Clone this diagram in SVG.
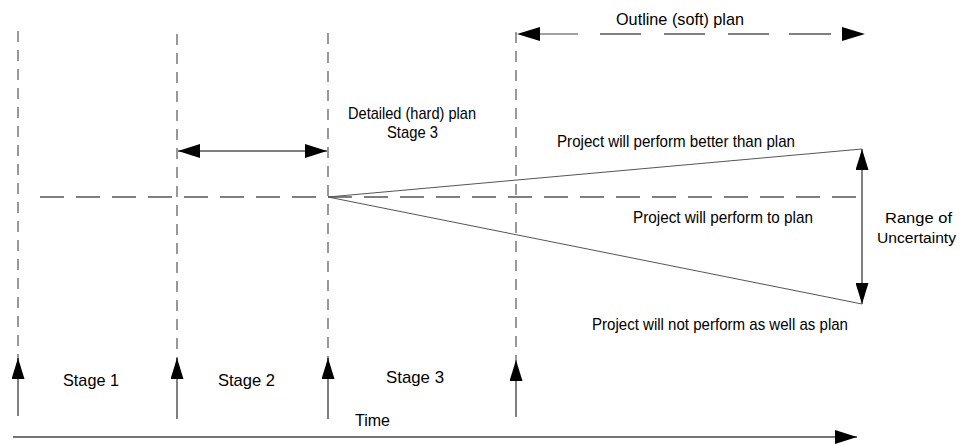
<svg xmlns="http://www.w3.org/2000/svg" width="961" height="444" viewBox="0 0 961 444">
<defs>
<marker id="big" viewBox="0 0 22 14" refX="22" refY="7" markerWidth="22" markerHeight="14" markerUnits="userSpaceOnUse" orient="auto-start-reverse"><path d="M0,0 L22,7 L0,14 Z" fill="#000"/></marker>
<marker id="mid" viewBox="0 0 21 13" refX="21" refY="6.5" markerWidth="21" markerHeight="13" markerUnits="userSpaceOnUse" orient="auto-start-reverse"><path d="M0,0 L21,6.5 L0,13 Z" fill="#000"/></marker>
</defs>
<style>
text{font-family:"Liberation Sans",Arial,sans-serif;font-size:17px;fill:#000}
.r{font-size:15.5px}
.vd{stroke:#555;stroke-width:1.2;stroke-dasharray:11 8;fill:none}
.hd{stroke:#555;stroke-width:1.3;stroke-dasharray:24 12;fill:none}
.s{stroke:#000;stroke-width:1;fill:none}
.t{stroke:#555;stroke-width:1;fill:none}
</style>
<g id="stage-lines">
<line class="vd" x1="18" y1="31" x2="18" y2="360"/>
<line class="vd" x1="177" y1="34" x2="177" y2="360"/>
<line class="vd" x1="328" y1="33" x2="328" y2="360"/>
<line class="vd" x1="516" y1="32" x2="516" y2="360"/>
</g>
<g id="plan-line"><line class="hd" x1="40" y1="197" x2="862" y2="197"/></g>
<g id="connectors">
<line class="s" x1="18" y1="416" x2="18" y2="358" marker-end="url(#mid)"/>
<line class="s" x1="177" y1="419" x2="177" y2="358" marker-end="url(#mid)"/>
<line class="s" x1="328" y1="419" x2="328" y2="358" marker-end="url(#mid)"/>
<line class="s" x1="516" y1="417" x2="516" y2="360" marker-end="url(#mid)"/>
<line x1="13" y1="437" x2="857" y2="437" stroke="#444" stroke-width="1.5" marker-end="url(#big)"/>
<line class="s" x1="178" y1="151" x2="327" y2="151" stroke-width="1.5" marker-start="url(#big)" marker-end="url(#big)"/>
<line class="s" x1="862" y1="149" x2="862" y2="304" stroke-width="1.5" marker-start="url(#mid)" marker-end="url(#mid)"/>
<line class="t" x1="328" y1="197" x2="862" y2="149"/>
<line class="t" x1="328" y1="197" x2="862" y2="304"/>
<line x1="538" y1="34" x2="578" y2="34" stroke="#444" stroke-width="1.2"/>
<line class="s" x1="600" y1="34" x2="641" y2="34" stroke-width="1.2"/>
<line class="s" x1="664" y1="34" x2="705" y2="34" stroke-width="1.2"/>
<line class="s" x1="728" y1="34" x2="769" y2="34" stroke-width="1.2"/>
<line class="s" x1="789" y1="34" x2="831" y2="34" stroke-width="1.2"/>
<path d="M517,34 L540,27 L540,41 Z" fill="#000"/>
<path d="M865,34 L842,27 L842,41 Z" fill="#000"/>
</g>
<g id="labels">
<text x="616" y="25" textLength="128" lengthAdjust="spacingAndGlyphs">Outline (soft) plan</text>
<text x="348" y="119" textLength="128" lengthAdjust="spacingAndGlyphs">Detailed (hard) plan</text>
<text x="387" y="138" textLength="51" lengthAdjust="spacingAndGlyphs">Stage 3</text>
<text x="557" y="147" textLength="238" lengthAdjust="spacingAndGlyphs">Project will perform better than plan</text>
<text x="633" y="223" textLength="180" lengthAdjust="spacingAndGlyphs">Project will perform to plan</text>
<text class="r" x="885" y="223" textLength="67" lengthAdjust="spacingAndGlyphs">Range of</text>
<text class="r" x="877" y="243" textLength="79" lengthAdjust="spacingAndGlyphs">Uncertainty</text>
<text x="592" y="330" textLength="256" lengthAdjust="spacingAndGlyphs">Project will not perform as well as plan</text>
<text x="63" y="386" textLength="56" lengthAdjust="spacingAndGlyphs">Stage 1</text>
<text x="218" y="386" textLength="57" lengthAdjust="spacingAndGlyphs">Stage 2</text>
<text x="386" y="383" textLength="58" lengthAdjust="spacingAndGlyphs">Stage 3</text>
<text x="355" y="426" textLength="35" lengthAdjust="spacingAndGlyphs">Time</text>
</g>
</svg>
